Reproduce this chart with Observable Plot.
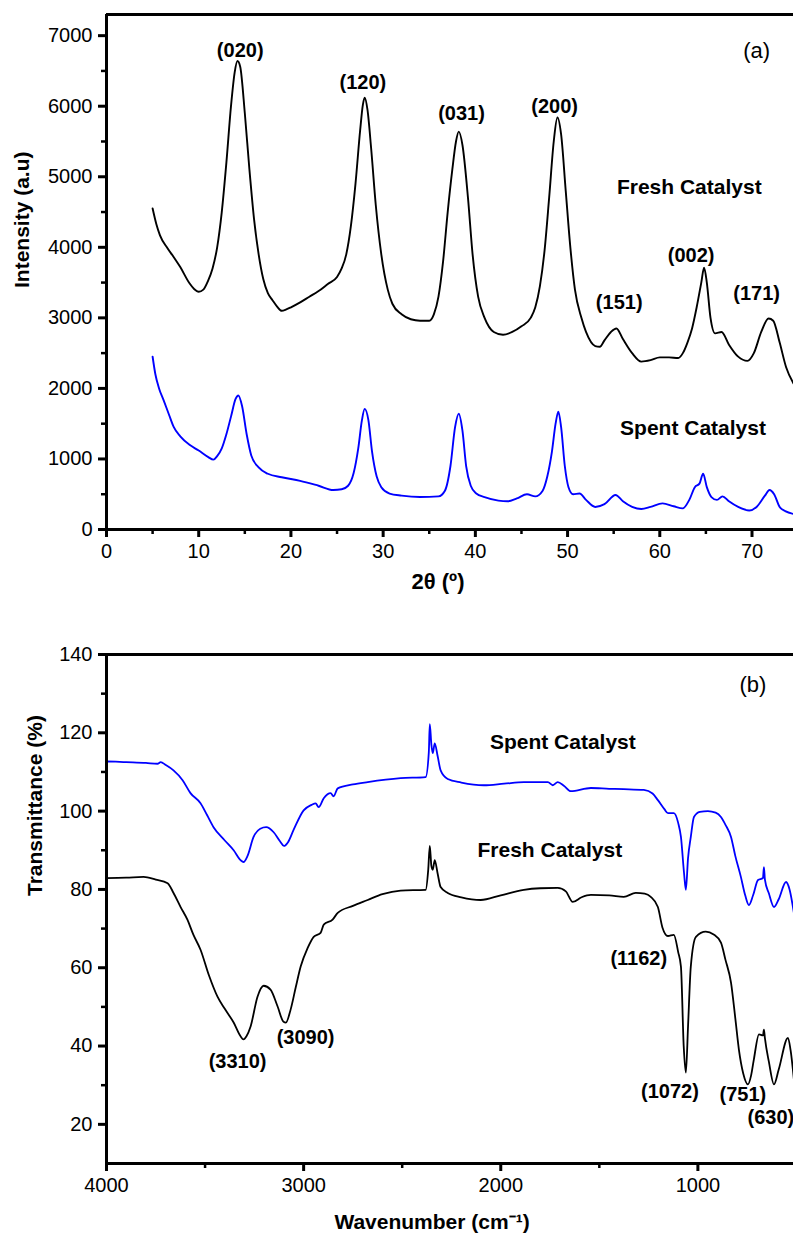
<!DOCTYPE html>
<html><head><meta charset="utf-8">
<script src="https://cdn.jsdelivr.net/npm/d3@7"></script>
<script src="https://cdn.jsdelivr.net/npm/@observablehq/plot@0.6"></script>
<style>
body{margin:0;background:#fff;}
#chart svg{display:block;}
</style></head><body><div id="chart"></div>
<script>
// ---------- Panel (a): XRD, [2theta (deg), intensity (a.u.)] ----------
const xrdFresh = [
[5.0,4550],[5.4,4330],[5.8,4170],[6.6,3990],[7.3,3860],[8.0,3720],[9.0,3490],[9.5,3410],
[10.0,3370],[10.5,3400],[11.0,3520],[11.5,3700],[12.0,4000],[12.5,4500],[13.0,5200],[13.5,6000],[13.9,6480],[14.2,6640],
[14.5,6560],[15.0,5900],[15.5,5100],[16.0,4400],[16.5,3900],[17.0,3550],[17.5,3350],[18.0,3250],[18.5,3160],[19.0,3100],
[19.5,3120],[20.0,3150],[21.0,3220],[22.0,3300],[23.0,3380],[24.0,3480],[25.0,3580],[25.5,3700],[26.0,3900],[26.5,4300],
[27.0,4900],[27.5,5650],[27.8,6020],[28.0,6120],[28.3,5950],[28.7,5400],[29.2,4600],[29.8,3900],[30.5,3400],[31.0,3200],[32.0,3050],
[33.0,2980],[34.0,2960],[35.0,2960],[35.5,3050],[36.0,3300],[36.5,3800],[37.0,4500],[37.5,5100],[37.9,5500],[38.2,5640],
[38.6,5450],[39.2,4700],[39.7,3900],[40.3,3300],[41.0,3000],[42.0,2800],[43.0,2760],[44.0,2800],[45.0,2880],[46.0,3000],
[46.5,3150],[47.0,3450],[47.5,3950],[48.0,4700],[48.5,5500],[48.9,5840],[49.3,5600],[49.8,4800],[50.3,4000],[50.8,3400],
[51.5,3000],[52.0,2800],[53.0,2600],[53.5,2590],[54.0,2680],[54.7,2800],[55.3,2850],[56.0,2700],[57.0,2500],[58.0,2380],
[59.0,2400],[60.0,2440],[61.0,2440],[62.0,2430],[62.5,2500],[63.0,2650],[63.5,2850],[64.0,3150],[64.5,3500],[64.8,3710],
[65.1,3500],[65.5,3000],[66.0,2780],[66.7,2800],[67.5,2620],[68.5,2450],[69.5,2390],[70.2,2500],[71.0,2800],[71.8,2990],
[72.3,2960],[73.0,2650],[73.7,2300],[74.5,2070]
];
const xrdSpent = [
[5.0,2450],[5.3,2200],[5.7,2000],[6.2,1830],[6.8,1620],[7.3,1450],[8.0,1320],[9.0,1200],[10.0,1120],[11.0,1030],
[11.6,990],[12.0,1040],[12.5,1150],[13.0,1350],[13.5,1600],[14.0,1850],[14.3,1900],[14.7,1750],[15.2,1350],[15.7,1050],
[16.5,880],[17.5,790],[19.0,740],[21.0,690],[23.0,620],[24.6,560],[25.5,570],[26.2,620],[26.8,800],[27.3,1150],
[27.7,1550],[28.0,1710],[28.4,1550],[28.8,1100],[29.3,750],[29.8,600],[30.7,510],[32.0,480],[34.0,460],[36.0,470],
[36.7,550],[37.3,900],[37.8,1450],[38.2,1640],[38.6,1400],[39.0,900],[39.5,620],[40.1,510],[41.0,460],[42.5,410],
[43.5,400],[44.5,440],[45.6,500],[46.5,470],[47.3,550],[47.8,750],[48.3,1100],[48.7,1500],[49.0,1670],[49.3,1450],
[49.7,900],[50.1,600],[50.6,500],[51.3,510],[52.0,420],[53.0,320],[54.0,360],[55.2,490],[56.0,400],[57.0,320],
[58.0,290],[59.0,320],[60.3,370],[61.5,330],[62.5,300],[63.2,420],[63.8,600],[64.3,650],[64.7,790],[65.1,600],
[65.6,460],[66.2,420],[66.8,470],[67.5,400],[68.5,320],[69.7,270],[70.5,320],[71.4,480],[71.9,560],[72.4,500],
[73.0,320],[73.6,260],[74.5,220]
];
const xrdYTicks = [0,1000,2000,3000,4000,5000,6000,7000];
const xrdXTicks = [0,10,20,30,40,50,60,70];
const xrdPeakNames = ["(020)","(120)","(031)","(200)","(002)","(171)"];
const xrdPeakTheta = [14.5,27.8,38.5,48.6,63.4,70.5];
const xrdPeakInt   = [6785,6330,5890,5990,3880,3340];
const xrdMinorName = ["(151)"];
const xrdMinorTheta = [55.6];
const xrdMinorInt = [3215];
const xrdSampleNames = ["Fresh Catalyst","Spent Catalyst"];
const xrdSampleTheta = [63.2,63.6];
const xrdSampleInt = [4845,1430];

// ---------- Panel (b): FTIR, [wavenumber (cm-1), transmittance (%)] ----------
const ftirSpent = [
[4000,83.0],[3999,112.7],[3900,112.5],[3800,112.3],[3741,112.1],[3725,112.5],[3700,111.8],[3660,110.4],[3614,107.9],[3574,104.6],
[3523,102.0],[3490,99.0],[3457,95.9],[3400,92.5],[3355,90.0],[3320,87.5],[3305,87.0],[3285,88.5],[3254,93.4],[3220,95.5],
[3190,95.9],[3152,94.6],[3120,92.3],[3100,91.1],[3080,92.0],[3051,95.2],[3000,100.2],[2960,101.6],[2939,102.0],[2924,101.0],
[2898,103.3],[2863,104.6],[2848,103.8],[2827,105.8],[2750,106.8],[2675,107.4],[2508,108.4],[2381,108.7],[2365,115.0],[2360,122.2],
[2352,117.0],[2345,114.8],[2335,117.3],[2320,114.0],[2305,110.4],[2269,108.2],[2200,107.3],[2086,106.6],[1983,107.0],[1883,107.4],
[1761,107.4],[1736,106.6],[1711,107.4],[1680,106.5],[1645,105.1],[1543,105.9],[1450,105.7],[1376,105.6],[1274,105.4],[1230,104.5],
[1203,102.8],[1170,100.5],[1152,99.5],[1122,99.5],[1100,97.0],[1086,93.4],[1070,84.0],[1061,79.9],[1050,88.0],[1036,93.4],
[1020,98.5],[990,99.8],[949,100.0],[910,99.6],[883,98.5],[860,96.5],[832,93.4],[810,88.5],[782,83.2],[760,78.5],
[741,76.0],[720,78.5],[695,82.4],[670,82.9],[665,85.7],[660,82.5],[640,79.0],[614,75.5],[590,77.5],[553,81.9],
[535,80.0],[513,74.0]
];
const ftirFresh = [
[4000,82.9],[3900,83.0],[3812,83.2],[3750,82.5],[3690,81.6],[3660,79.1],[3624,75.5],[3589,72.2],[3560,68.5],[3523,64.6],
[3480,58.0],[3437,52.6],[3400,49.5],[3355,46.0],[3320,42.5],[3305,41.7],[3290,42.5],[3269,45.0],[3234,52.6],[3203,55.4],
[3168,54.4],[3132,50.1],[3102,46.2],[3090,46.0],[3066,49.3],[3040,55.0],[3015,60.3],[2980,65.0],[2949,67.9],[2914,68.9],
[2898,71.0],[2853,72.3],[2827,74.0],[2750,75.8],[2675,77.3],[2600,78.8],[2508,79.7],[2381,79.9],[2368,85.0],[2360,91.1],
[2352,86.0],[2345,85.0],[2335,87.5],[2320,84.0],[2305,80.6],[2269,79.1],[2200,78.0],[2102,77.3],[2000,78.5],[1883,79.9],
[1800,80.3],[1711,80.4],[1670,79.5],[1635,76.8],[1590,78.0],[1543,78.6],[1450,78.5],[1376,78.1],[1315,79.1],[1270,78.9],
[1239,78.1],[1203,75.5],[1180,70.3],[1152,68.1],[1122,68.4],[1100,64.0],[1086,60.3],[1072,40.0],[1061,33.2],[1050,45.0],
[1036,60.3],[1010,67.9],[960,69.2],[920,68.5],[883,66.4],[860,62.0],[832,56.2],[810,47.0],[792,39.1],[770,33.0],
[746,30.2],[730,32.5],[716,36.6],[690,43.0],[670,42.7],[665,44.2],[660,42.0],[640,36.0],[614,30.2],[590,34.0],
[543,42.1],[530,39.0],[513,31.5]
];
const ftirYTicks = [20,40,60,80,100,120,140];
const ftirXTicks = [4000,3000,2000,1000];
const ftirBandNames = ["(3310)","(3090)","(1162)","(1072)","(751)","(630)"];
const ftirBandWn = [3335,2990,1300,1142,772,630];
const ftirBandT  = [36.0,42.2,62.3,28.4,27.6,21.8];
const ftirSampleNames = ["Spent Catalyst","Fresh Catalyst"];
const ftirSampleWn = [1685,1751];
const ftirSampleT = [117.6,90.1];

// ---------- drawing ----------
const FONT = '"Liberation Sans", Arial, Helvetica, sans-serif';
const baseStyle = {fontFamily: FONT, fontSize: "20px", color: "#000", background: "#fff", overflow: "visible"};
const fmt = d3.format("d");
const blank = () => "";
const BLUE = "#0000ff";

const chartA = Plot.plot({
  width: 793, height: 610,
  marginTop: 14, marginBottom: 81, marginLeft: 106, marginRight: 0,
  style: baseStyle,
  x: {domain: [0, 74.5]},
  y: {domain: [0, 7300]},
  marks: [
    Plot.axisY(d3.range(500, 7000, 1000), {tickSize: 5, strokeWidth: 2.5, tickFormat: blank, label: null}),
    Plot.axisY(xrdYTicks, {tickSize: 8, strokeWidth: 3, tickPadding: 6, tickFormat: fmt, label: null, fontSize: 20}),
    Plot.axisX(d3.range(5, 70, 10), {tickSize: 5, strokeWidth: 2.5, tickFormat: blank, label: null}),
    Plot.axisX(xrdXTicks, {tickSize: 8, strokeWidth: 3, tickPadding: 6, tickFormat: fmt, label: null, fontSize: 20}),
    Plot.line(xrdSpent, {x: d => d[0], y: d => d[1], stroke: BLUE, strokeWidth: 1.9, curve: "monotone-x"}),
    Plot.line(xrdFresh, {x: d => d[0], y: d => d[1], stroke: "#000", strokeWidth: 1.9, curve: "monotone-x"}),
    Plot.ruleX([0], {strokeWidth: 3}),
    Plot.ruleY([0], {strokeWidth: 3}),
    Plot.ruleY([7300], {strokeWidth: 3}),
    Plot.text(xrdPeakNames, {x: xrdPeakTheta, y: xrdPeakInt, text: d => d, fontWeight: "bold", fontSize: 20, letterSpacing: "-0.5px"}),
    Plot.text(xrdMinorName, {x: xrdMinorTheta, y: xrdMinorInt, text: d => d, fontWeight: "600", fontSize: 20, letterSpacing: "-0.5px"}),
    Plot.text(xrdSampleNames, {x: xrdSampleTheta, y: xrdSampleInt, text: d => d, fontWeight: "bold", fontSize: 21, letterSpacing: "-0.6px"}),
    Plot.text(["(a)"], {x: [70.5], y: [6785], text: d => d, fontSize: 22}),
    Plot.text(["Intensity (a.u)"], {frameAnchor: "left", dx: -84, dy: 16, rotate: -90, fontWeight: "bold", fontSize: 21, letterSpacing: "-0.4px"}),
    Plot.text(["2θ (º)"], {frameAnchor: "bottom", dx: -12, dy: 59, fontWeight: "bold", fontSize: 22})
  ]
});

const chartB = Plot.plot({
  width: 793, height: 630,
  marginTop: 44, marginBottom: 77, marginLeft: 106, marginRight: 0,
  style: baseStyle,
  x: {domain: [4000, 515]},
  y: {domain: [10, 140]},
  marks: [
    Plot.axisY(d3.range(30, 140, 20), {tickSize: 5, strokeWidth: 2.5, tickFormat: blank, label: null}),
    Plot.axisY(ftirYTicks, {tickSize: 8, strokeWidth: 3, tickPadding: 6, tickFormat: fmt, label: null, fontSize: 20}),
    Plot.axisX([3500, 2500, 1500], {tickSize: 5, strokeWidth: 2.5, tickFormat: blank, label: null}),
    Plot.axisX(ftirXTicks, {tickSize: 8, strokeWidth: 3, tickPadding: 6, tickFormat: fmt, label: null, fontSize: 20}),
    Plot.line(ftirSpent, {x: d => d[0], y: d => d[1], stroke: BLUE, strokeWidth: 1.8, curve: "monotone-x"}),
    Plot.line(ftirFresh, {x: d => d[0], y: d => d[1], stroke: "#000", strokeWidth: 1.8, curve: "monotone-x"}),
    Plot.ruleX([4000], {strokeWidth: 3}),
    Plot.ruleY([10], {strokeWidth: 3}),
    Plot.ruleY([140], {strokeWidth: 3}),
    Plot.text(ftirBandNames, {x: ftirBandWn, y: ftirBandT, text: d => d, fontWeight: "bold", fontSize: 20, letterSpacing: "-0.5px"}),
    Plot.text(ftirSampleNames, {x: ftirSampleWn, y: ftirSampleT, text: d => d, fontWeight: "bold", fontSize: 21, letterSpacing: "-0.6px"}),
    Plot.text(["(b)"], {x: [721], y: [132.1], text: d => d, fontSize: 22}),
    Plot.text(["Transmittance (%)"], {frameAnchor: "left", dx: -71, dy: -13, rotate: -90, fontWeight: "bold", fontSize: 21, letterSpacing: "-0.4px"}),
    Plot.text(["Wavenumber (cm⁻¹)"], {frameAnchor: "bottom", dx: -18, dy: 65, fontWeight: "bold", fontSize: 21, letterSpacing: "-0.4px"})
  ]
});

document.getElementById("chart").append(chartA, chartB);
</script>
</body></html>
